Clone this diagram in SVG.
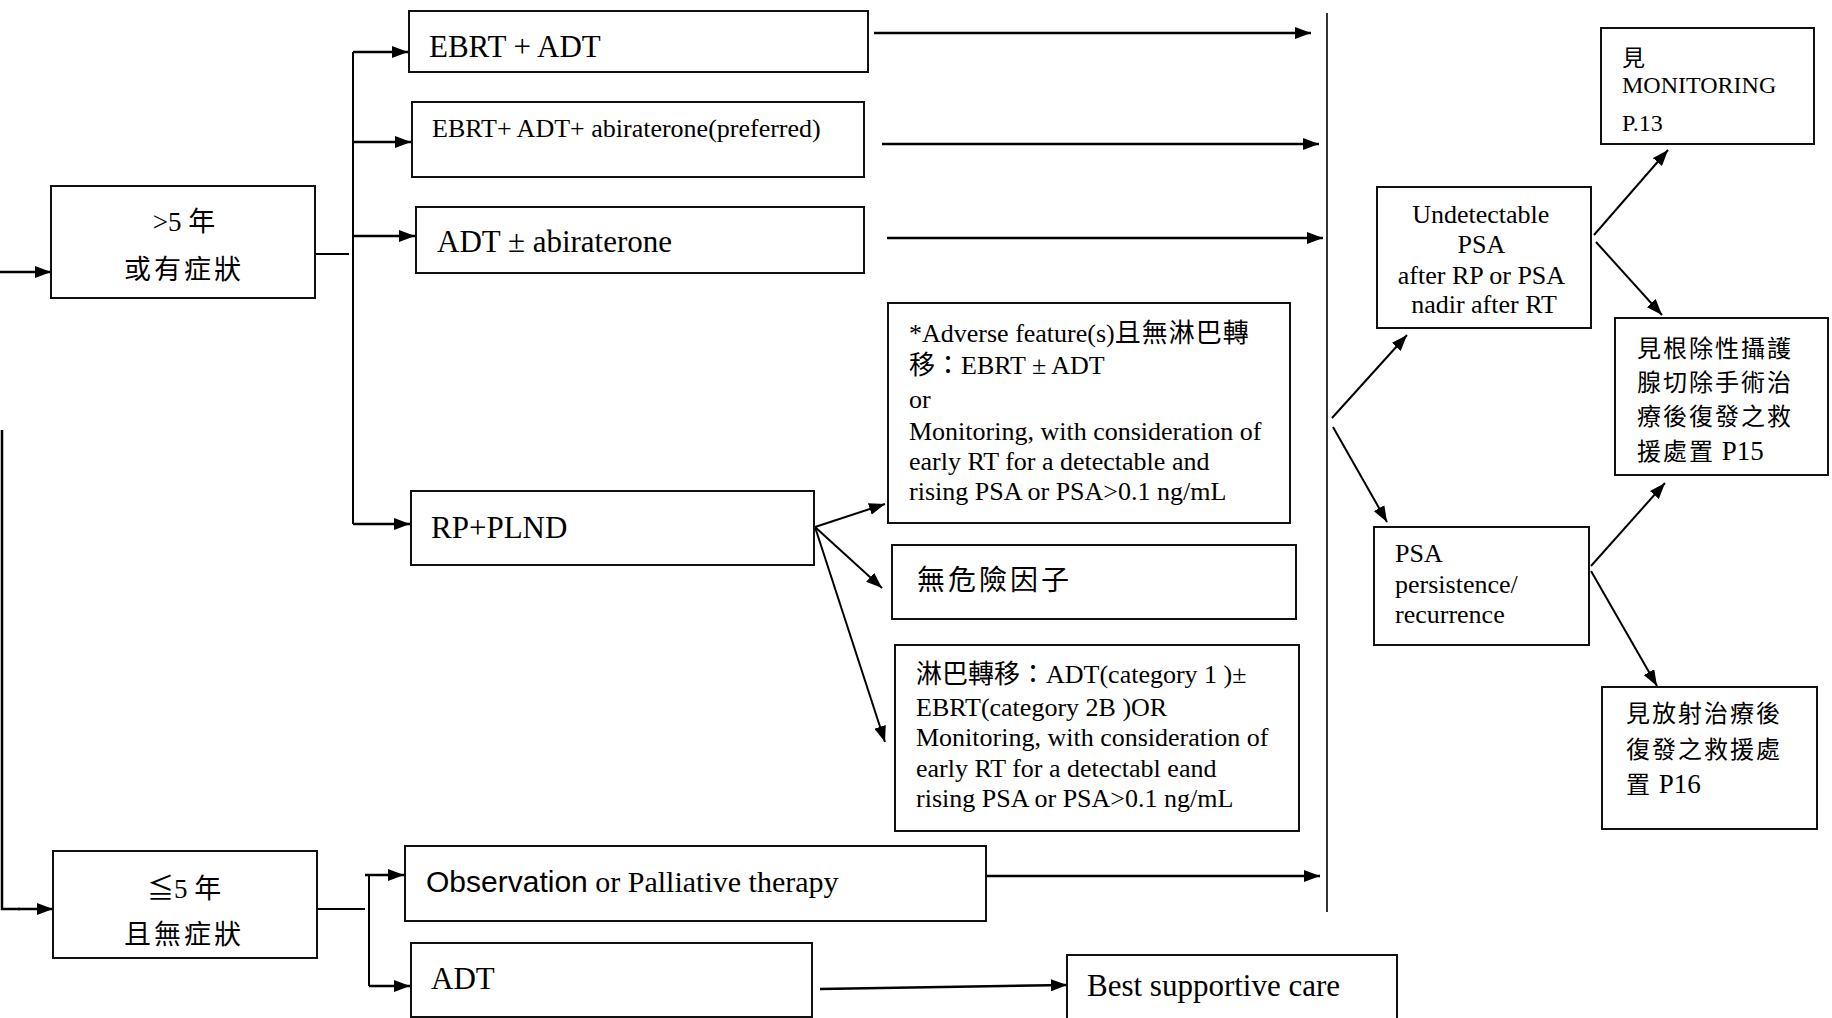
<svg xmlns="http://www.w3.org/2000/svg" width="1832" height="1018" viewBox="0 0 1832 1018">
<style>
  .box { fill: #fff; stroke: #111; stroke-width: 2; }
  .t { font-family: "Liberation Serif", "Noto Sans CJK TC", serif; fill: #000; }
  .l { font-family: "Liberation Serif", serif; }
  .s { font-family: "Liberation Sans", "Noto Sans CJK TC", sans-serif; fill: #000; }
  .c { stroke: #000; stroke-width: 2.5; fill: none; }
  .d { stroke: #000; stroke-width: 2; fill: none; }
  .a { marker-end: url(#ah); }
</style>
<defs>
  <marker id="ah" viewBox="0 0 16 12" refX="16" refY="6" markerWidth="16" markerHeight="12" markerUnits="userSpaceOnUse" orient="auto">
    <path d="M0,0 L16,6 L0,12 z" fill="#000"/>
  </marker>
</defs>
<rect width="1832" height="1018" fill="#fff"/>

<g id="connectors">
  <line class="c a" x1="0" y1="272" x2="51" y2="272"/>
  <polyline class="c" points="2,430 2,909 20,909"/>
  <line class="c a" x1="18" y1="909" x2="53" y2="909"/>
  <line class="d" x1="315" y1="254" x2="349" y2="254"/>
  <line class="d" x1="353" y1="52" x2="353" y2="524"/>
  <line class="c a" x1="353" y1="52" x2="408" y2="52"/>
  <line class="c a" x1="353" y1="142" x2="411" y2="142"/>
  <line class="c a" x1="353" y1="236" x2="415" y2="236"/>
  <line class="c a" x1="353" y1="524" x2="410" y2="524"/>
  <line class="c a" x1="874" y1="33" x2="1311" y2="33"/>
  <line class="c a" x1="882" y1="144" x2="1319" y2="144"/>
  <line class="c a" x1="887" y1="238" x2="1323" y2="238"/>
  <line stroke="#000" stroke-width="1.6" x1="1327" y1="13" x2="1327" y2="912"/>
  <line class="d a" x1="815" y1="527" x2="885" y2="504"/>
  <line class="d a" x1="815" y1="527" x2="882" y2="588"/>
  <line class="d a" x1="815" y1="527" x2="885" y2="742"/>
  <line class="d a" x1="1332" y1="418" x2="1407" y2="335"/>
  <line class="d a" x1="1333" y1="427" x2="1387" y2="522"/>
  <line class="d a" x1="1594" y1="235" x2="1668" y2="150"/>
  <line class="d a" x1="1596" y1="242" x2="1662" y2="315"/>
  <line class="d a" x1="1591" y1="566" x2="1665" y2="483"/>
  <line class="d a" x1="1591" y1="571" x2="1657" y2="686"/>
  <line class="d" x1="317" y1="909" x2="365" y2="909"/>
  <line class="d" x1="369" y1="875" x2="369" y2="986"/>
  <line class="c a" x1="365" y1="875" x2="404" y2="875"/>
  <line class="c a" x1="369" y1="986" x2="410" y2="986"/>
  <line class="c a" x1="986" y1="876" x2="1320" y2="876"/>
  <line class="c a" x1="820" y1="989" x2="1067" y2="985"/>
</g>

<g id="n_gt5">
  <rect class="box" x="51" y="186" width="264" height="112"/>
  <text class="t" x="184" y="231" font-size="27" text-anchor="middle"><tspan class="l">&gt;5 </tspan><tspan>年</tspan></text>
  <text class="t" x="184" y="279" font-size="27" text-anchor="middle" letter-spacing="3">或有症狀</text>
</g>

<g id="n_le5">
  <rect class="box" x="53" y="851" width="264" height="107"/>
  <text class="t" x="184" y="898" font-size="27" text-anchor="middle"><tspan>≦</tspan><tspan class="l">5 </tspan><tspan>年</tspan></text>
  <text class="t" x="184" y="944" font-size="27" text-anchor="middle" letter-spacing="3">且無症狀</text>
</g>

<g id="n_ebrt_adt">
  <rect class="box" x="409" y="11" width="459" height="61"/>
  <text class="t" x="429" y="57" font-size="31">EBRT + ADT</text>
</g>

<g id="n_ebrt_adt_abi">
  <rect class="box" x="412" y="102" width="452" height="75"/>
  <text class="t" x="432" y="137" font-size="26">EBRT+ ADT+ abiraterone(preferred)</text>
</g>

<g id="n_adt_abi">
  <rect class="box" x="416" y="207" width="448" height="66"/>
  <text class="t" x="437" y="252" font-size="31">ADT ± abiraterone</text>
</g>

<g id="n_rp">
  <rect class="box" x="411" y="491" width="403" height="74"/>
  <text class="t" x="431" y="538" font-size="31">RP+PLND</text>
</g>

<g id="n_adverse">
  <rect class="box" x="888" y="303" width="402" height="220"/>
  <text class="t" font-size="26">
    <tspan x="909" y="342">*Adverse feature(s)</tspan><tspan letter-spacing="1">且無淋巴轉</tspan>
    <tspan x="909" y="374">移：</tspan><tspan class="l">EBRT ± ADT</tspan>
    <tspan x="909" y="408">or</tspan>
    <tspan x="909" y="440">Monitoring, with consideration of</tspan>
    <tspan x="909" y="470">early RT for a detectable and</tspan>
    <tspan x="909" y="500">rising PSA or PSA&gt;0.1 ng/mL</tspan>
  </text>
</g>

<g id="n_norisk">
  <rect class="box" x="892" y="545" width="404" height="74"/>
  <text class="t" x="917" y="590" font-size="28" letter-spacing="3">無危險因子</text>
</g>

<g id="n_lymph">
  <rect class="box" x="895" y="645" width="404" height="186"/>
  <text class="t" font-size="26">
    <tspan x="916" y="683">淋巴轉移：</tspan><tspan class="l">ADT(category 1 )±</tspan>
    <tspan x="916" y="716">EBRT(category 2B )OR</tspan>
    <tspan x="916" y="746">Monitoring, with consideration of</tspan>
    <tspan x="916" y="777">early RT for a detectabl eand</tspan>
    <tspan x="916" y="807">rising PSA or PSA&gt;0.1 ng/mL</tspan>
  </text>
</g>

<g id="n_obs">
  <rect class="box" x="405" y="846" width="581" height="75"/>
  <text x="426" y="892" font-size="30"><tspan class="s">Observation</tspan><tspan class="t"> or Palliative therapy</tspan></text>
</g>

<g id="n_adt">
  <rect class="box" x="411" y="943" width="401" height="74"/>
  <text class="t" x="431" y="989" font-size="31">ADT</text>
</g>

<g id="n_bsc">
  <rect class="box" x="1067" y="955" width="330" height="70"/>
  <text class="t" x="1087" y="996" font-size="31">Best supportive care</text>
</g>

<g id="n_undet">
  <rect class="box" x="1377" y="187" width="214" height="141"/>
  <text class="t" font-size="26" text-anchor="middle">
    <tspan x="1484" y="223">Undetectable</tspan>
    <tspan x="1484" y="253">PSA</tspan>
    <tspan x="1484" y="284">after RP or PSA</tspan>
    <tspan x="1484" y="313">nadir after RT</tspan>
  </text>
</g>

<g id="n_pers">
  <rect class="box" x="1374" y="527" width="215" height="118"/>
  <text class="t" font-size="26">
    <tspan x="1395" y="562">PSA</tspan>
    <tspan x="1395" y="593">persistence/</tspan>
    <tspan x="1395" y="623">recurrence</tspan>
  </text>
</g>

<g id="n_mon">
  <rect class="box" x="1601" y="28" width="213" height="116"/>
  <text class="t" font-size="24">
    <tspan x="1622" y="66" font-size="23">見</tspan>
    <tspan x="1622" y="93">MONITORING</tspan>
    <tspan x="1622" y="131">P.13</tspan>
  </text>
</g>

<g id="n_rp_salvage">
  <rect class="box" x="1615" y="318" width="213" height="157"/>
  <text class="t" font-size="24" letter-spacing="2">
    <tspan x="1637" y="357">見根除性攝護</tspan>
    <tspan x="1637" y="391">腺切除手術治</tspan>
    <tspan x="1637" y="425">療後復發之救</tspan>
    <tspan x="1637" y="460">援處置</tspan><tspan class="l" font-size="27" letter-spacing="0"> P15</tspan>
  </text>
</g>

<g id="n_rt_salvage">
  <rect class="box" x="1602" y="687" width="215" height="142"/>
  <text class="t" font-size="24" letter-spacing="2">
    <tspan x="1626" y="722">見放射治療後</tspan>
    <tspan x="1626" y="758">復發之救援處</tspan>
    <tspan x="1626" y="793">置</tspan><tspan class="l" font-size="27" letter-spacing="0"> P16</tspan>
  </text>
</g>
</svg>
